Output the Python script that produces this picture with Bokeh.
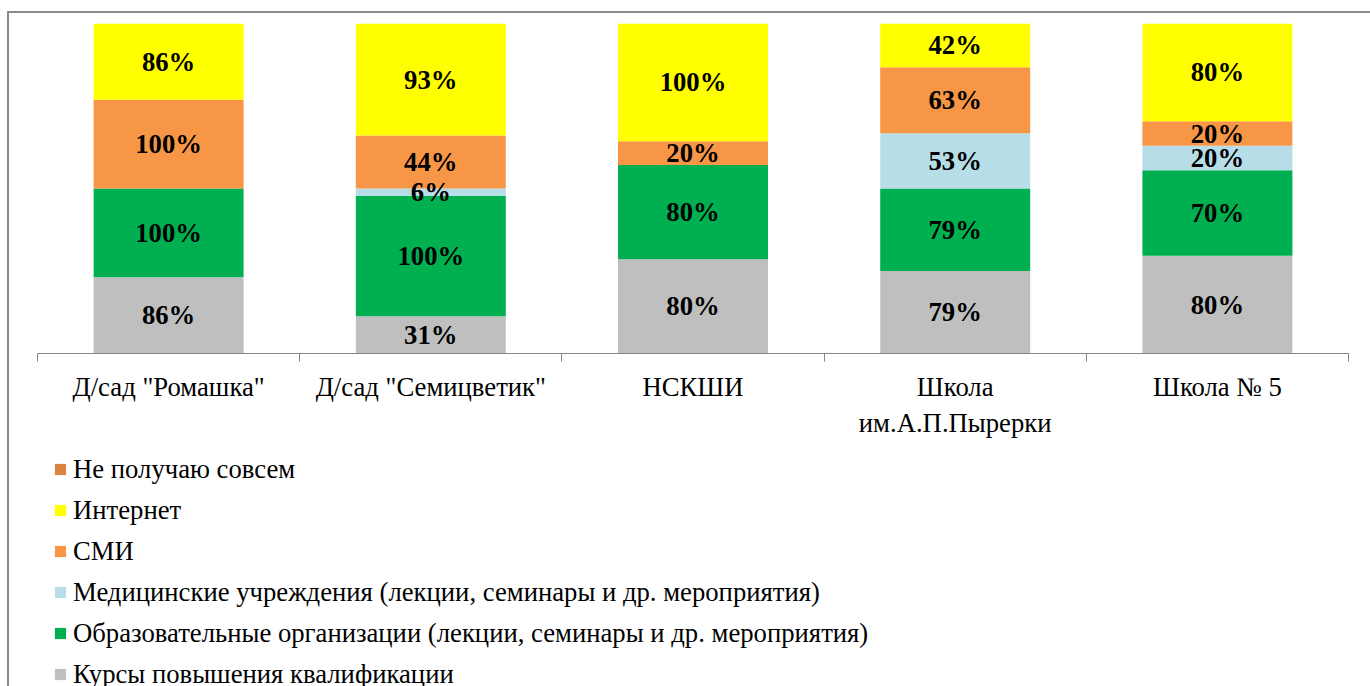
from bokeh.plotting import figure
from bokeh.models import (ColumnDataSource, Range1d, LinearAxis, FixedTicker,
                          Legend, LegendItem)
from bokeh.layouts import column
from bokeh.core.properties import value
from bokeh.embed import file_html
from bokeh.resources import INLINE

categories = ['Д/сад "Ромашка"', 'Д/сад "Семицветик"', 'НСКШИ',
              'Школа\nим.А.П.Пырерки', 'Школа № 5']
series_names = ["Курсы повышения квалификации",
                "Образовательные организации (лекции, семинары и др. мероприятия)",
                "Медицинские учреждения (лекции, семинары и др. мероприятия)",
                "СМИ", "Интернет", "Не получаю совсем"]
kursy = [86, 31, 80, 79, 80]
obraz = [100, 100, 80, 79, 70]
medic = [0, 6, 0, 53, 20]
smi = [100, 44, 20, 63, 20]
internet = [86, 93, 100, 42, 80]
ne_poluchayu = [0, 0, 0, 0, 0]
colors = ["#BFBFBF", "#00B050", "#B7DEE8", "#F79646", "#FFFF00", "#DA843F"]

values = [kursy, obraz, medic, smi, internet, ne_poluchayu]
keys = ["s%d" % i for i in range(len(values))]
totals = [sum(v[i] for v in values) for i in range(len(categories))]
xs = [i + 0.5 for i in range(len(categories))]

data = {"x": xs}
for k, v in zip(keys, values):
    data[k] = [v[i] / totals[i] for i in range(len(categories))]
src = ColumnDataSource(data)

FONT = "Liberation Serif"

p = figure(width=1361, height=435, output_backend="svg", toolbar_location=None,
           x_range=Range1d(0, 5), y_range=Range1d(0, 1),
           x_axis_location=None, y_axis_location=None,
           min_border_left=28, min_border_right=22, min_border_top=10,
           min_border_bottom=95)
p.grid.visible = False
p.outline_line_color = None

rends = p.vbar_stack(keys, x="x", width=0.572, source=src, color=colors,
                     line_color=None)

# data labels
lx, ly, lt = [], [], []
for i in range(len(categories)):
    base = 0.0
    for v in values:
        f = v[i] / totals[i]
        if v[i] > 0:
            lx.append(xs[i])
            ly.append(base + f / 2)
            lt.append("%d%%" % v[i])
        base += f
p.text(x=lx, y=ly, text=lt, text_font=value(FONT), text_font_style="bold",
       text_font_size="26.7px", text_align="center", text_baseline="middle",
       text_color="black")

ax = LinearAxis(ticker=FixedTicker(ticks=xs, minor_ticks=[0, 1, 2, 3, 4, 5]))
ax.major_label_overrides = {x: c for x, c in zip(xs, categories)}
ax.major_tick_out = 0
ax.major_tick_in = 0
ax.minor_tick_out = 8
ax.minor_tick_in = 0
ax.minor_tick_line_color = "#868686"
ax.axis_line_color = "#868686"
ax.major_label_text_font = FONT
ax.major_label_text_font_size = "26.7px"
ax.major_label_text_color = "black"
ax.major_label_standoff = 10
p.add_layout(ax, "below")

# legend figure
p2 = figure(width=1361, height=238, output_backend="svg", toolbar_location=None,
            x_range=Range1d(0, 1), y_range=Range1d(0, 1),
            x_axis_location=None, y_axis_location=None,
            min_border_left=28, min_border_right=22, min_border_top=0,
            min_border_bottom=0)
p2.grid.visible = False
p2.outline_line_color = None
items = []
for name, c in zip(series_names, colors):
    r = p2.vbar(x=[0.5], top=[0], bottom=[0], width=0.1, fill_color=c,
                line_color=None)
    items.append(LegendItem(label=name, renderers=[r]))
items = items[::-1]
legend = Legend(items=items, location=(16, -3.5), orientation="vertical",
                label_text_font=FONT, label_text_font_size="26.7px",
                label_text_color="black",
                glyph_width=14, glyph_height=14, label_height=30, spacing=10,
                padding=0, margin=0, border_line_alpha=0,
                background_fill_alpha=0, label_standoff=6)
p2.add_layout(legend, "center")

layout = column(p, p2, spacing=0)
layout.styles = {"border-top": "2px solid #8a8a8a",
                 "border-left": "2px solid #8a8a8a",
                 "margin-top": "11px", "margin-left": "7px"}

open("out.html", "w").write(file_html(layout, INLINE))
